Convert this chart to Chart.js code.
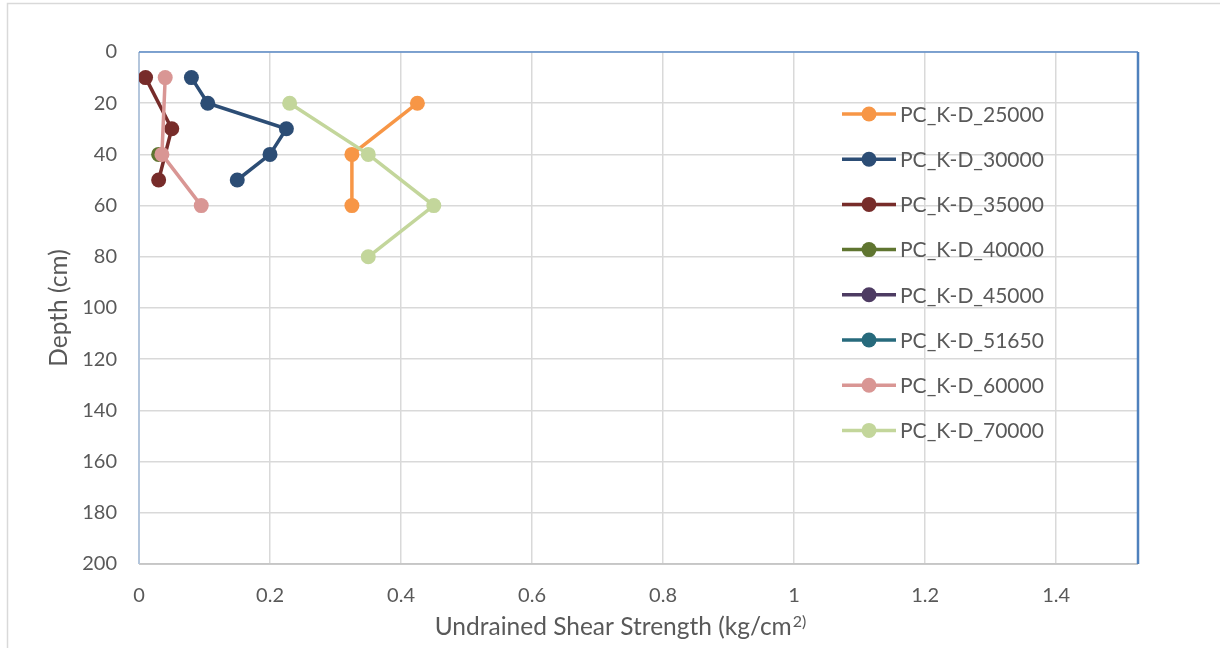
<!DOCTYPE html>
<html>
<head>
<meta charset="utf-8">
<script src="https://cdn.jsdelivr.net/npm/chart.js@4"></script>
<style>
  html, body { margin: 0; padding: 0; background: #ffffff; }
  #wrap { width: 1220px; height: 648px; position: relative; }
</style>
</head>
<body>
<div id="wrap"><canvas id="shearChart" width="1220" height="648"></canvas></div>
<script>
// series names
var seriesNames = ["PC_K-D_25000", "PC_K-D_30000", "PC_K-D_35000", "PC_K-D_40000",
  "PC_K-D_45000", "PC_K-D_51650", "PC_K-D_60000", "PC_K-D_70000"];
var seriesColors = ["#f79646", "#2c4d75", "#772c2a", "#5f7530",
  "#4d3b62", "#276a7c", "#d99694", "#c3d69b"];

// depth (cm) and undrained shear strength (kg/cm2) per series
var depth25000 = [20, 40, 60];
var su25000 = [0.425, 0.325, 0.325];
var depth30000 = [10, 20, 30, 40, 50];
var su30000 = [0.08, 0.105, 0.225, 0.2, 0.15];
var depth35000 = [10, 30, 50];
var su35000 = [0.01, 0.05, 0.03];
var depth40000 = [40];
var su40000 = [0.03];
var depth45000 = [];
var su45000 = [];
var depth51650 = [];
var su51650 = [];
var depth60000 = [10, 40, 60];
var su60000 = [0.04, 0.035, 0.095];
var depth70000 = [20, 40, 60, 80];
var su70000 = [0.23, 0.35, 0.45, 0.35];

var allDepths = [depth25000, depth30000, depth35000, depth40000, depth45000, depth51650, depth60000, depth70000];
var allSu = [su25000, su30000, su35000, su40000, su45000, su51650, su60000, su70000];

var yTitle = "Depth (cm)";
var xTitle = "Undrained Shear Strength (kg/cm";
var xTitleSup = "2)";

var FONT = "Lato, 'Open Sans', sans-serif";
var TEXT_COLOR = "#595959";

var datasets = [];
for (var i = 0; i < seriesNames.length; i++) {
  var pts = [];
  for (var j = 0; j < allDepths[i].length; j++) {
    pts.push({ x: allSu[i][j], y: allDepths[i][j] });
  }
  datasets.push({
    label: seriesNames[i],
    data: pts,
    borderColor: seriesColors[i],
    backgroundColor: seriesColors[i],
    borderWidth: 3.5,
    pointRadius: 7.5,
    pointHoverRadius: 7.5,
    pointBorderWidth: 0,
    showLine: true,
    order: -i // later series drawn on top, like the original
  });
}

// frame, plot border, axis titles and legend drawn by hand
var decorPlugin = {
  id: "decor",
  beforeDraw: function (chart) {
    var ctx = chart.ctx;
    ctx.save();
    ctx.fillStyle = "#ffffff";
    ctx.fillRect(0, 0, chart.width, chart.height);
    ctx.strokeStyle = "#d9d9d9";
    ctx.lineWidth = 1.5;
    ctx.strokeRect(7.5, 3.5, chart.width + 20, chart.height + 20);
    ctx.restore();
  },
  beforeDatasetsDraw: function (chart) {
    var ctx = chart.ctx;
    var a = chart.chartArea;
    ctx.save();
    // bottom
    ctx.strokeStyle = "#bfbfbf";
    ctx.lineWidth = 1.5;
    ctx.beginPath();
    ctx.moveTo(a.left, a.bottom);
    ctx.lineTo(a.right, a.bottom);
    ctx.stroke();
    // left
    ctx.strokeStyle = "#b4c6dc";
    ctx.lineWidth = 2;
    ctx.beginPath();
    ctx.moveTo(a.left, a.top);
    ctx.lineTo(a.left, a.bottom);
    ctx.stroke();
    // top
    ctx.strokeStyle = "#5b8bc9";
    ctx.lineWidth = 1.5;
    ctx.beginPath();
    ctx.moveTo(a.left, a.top);
    ctx.lineTo(a.right, a.top);
    ctx.stroke();
    // right
    ctx.strokeStyle = "#4f81bd";
    ctx.lineWidth = 2.5;
    ctx.beginPath();
    ctx.moveTo(a.right, a.top);
    ctx.lineTo(a.right, a.bottom);
    ctx.stroke();
    ctx.restore();
  },
  afterDraw: function (chart) {
    var ctx = chart.ctx;
    var a = chart.chartArea;
    ctx.save();
    ctx.fillStyle = TEXT_COLOR;
    ctx.textBaseline = "alphabetic";
    ctx.textAlign = "left";
    // x title with raised "2)"
    ctx.font = "24.5px " + FONT;
    var w1 = ctx.measureText(xTitle).width;
    ctx.font = "16px " + FONT;
    var w2 = ctx.measureText(xTitleSup).width;
    var x0 = 620 - (w1 + w2) / 2;
    ctx.font = "24.5px " + FONT;
    ctx.fillText(xTitle, x0, 635);
    ctx.font = "16px " + FONT;
    ctx.fillText(xTitleSup, x0 + w1 + 1, 627);
    // y title
    ctx.font = "24.5px " + FONT;
    ctx.textAlign = "center";
    ctx.translate(67, (a.top + a.bottom) / 2);
    ctx.rotate(-Math.PI / 2);
    ctx.fillText(yTitle, 0, 0);
    ctx.restore();

    // legend inside plot area
    ctx.save();
    ctx.font = "21px " + FONT;
    ctx.textAlign = "left";
    ctx.textBaseline = "middle";
    var top = 114, gap = 45.2;
    for (var k = 0; k < seriesNames.length; k++) {
      var y = top + k * gap;
      ctx.strokeStyle = seriesColors[k];
      ctx.lineWidth = 3.5;
      ctx.beginPath();
      ctx.moveTo(842, y);
      ctx.lineTo(896, y);
      ctx.stroke();
      ctx.fillStyle = seriesColors[k];
      ctx.beginPath();
      ctx.arc(869, y, 7.5, 0, Math.PI * 2);
      ctx.fill();
      ctx.fillStyle = TEXT_COLOR;
      ctx.fillText(seriesNames[k], 900, y + 1);
    }
    ctx.restore();
  }
};

var ctx = document.getElementById("shearChart").getContext("2d");
var myChart = new Chart(ctx, {
  type: "scatter",
  data: { datasets: datasets },
  options: {
    responsive: false,
    animation: false,
    maintainAspectRatio: false,
    layout: { padding: { left: 0, top: 52, right: 82, bottom: 0 } },
    plugins: {
      legend: { display: false },
      tooltip: { enabled: false }
    },
    scales: {
      x: {
        type: "linear",
        min: 0,
        max: 1.525,
        afterFit: function (scale) { scale.height = 84; },
        afterBuildTicks: function (scale) {
          var t = [];
          for (var v = 0; v <= 1.4001; v += 0.2) t.push({ value: Math.round(v * 10) / 10 });
          scale.ticks = t;
        },
        ticks: {
          color: TEXT_COLOR,
          font: { family: FONT, size: 20 },
          padding: 20,
          maxRotation: 0,
          autoSkip: false,
          callback: function (v) { return String(Math.round(v * 10) / 10); }
        },
        grid: { color: "#d9d9d9", lineWidth: 1.5, drawTicks: false },
        border: { display: false }
      },
      y: {
        type: "linear",
        reverse: true,
        min: 0,
        max: 200,
        afterFit: function (scale) { scale.width = 139; },
        ticks: {
          stepSize: 20,
          color: TEXT_COLOR,
          font: { family: FONT, size: 20 },
          padding: 22
        },
        grid: { color: "#d9d9d9", lineWidth: 1.5, drawTicks: false },
        border: { display: false }
      }
    }
  },
  plugins: [decorPlugin]
});
</script>
</body>
</html>
